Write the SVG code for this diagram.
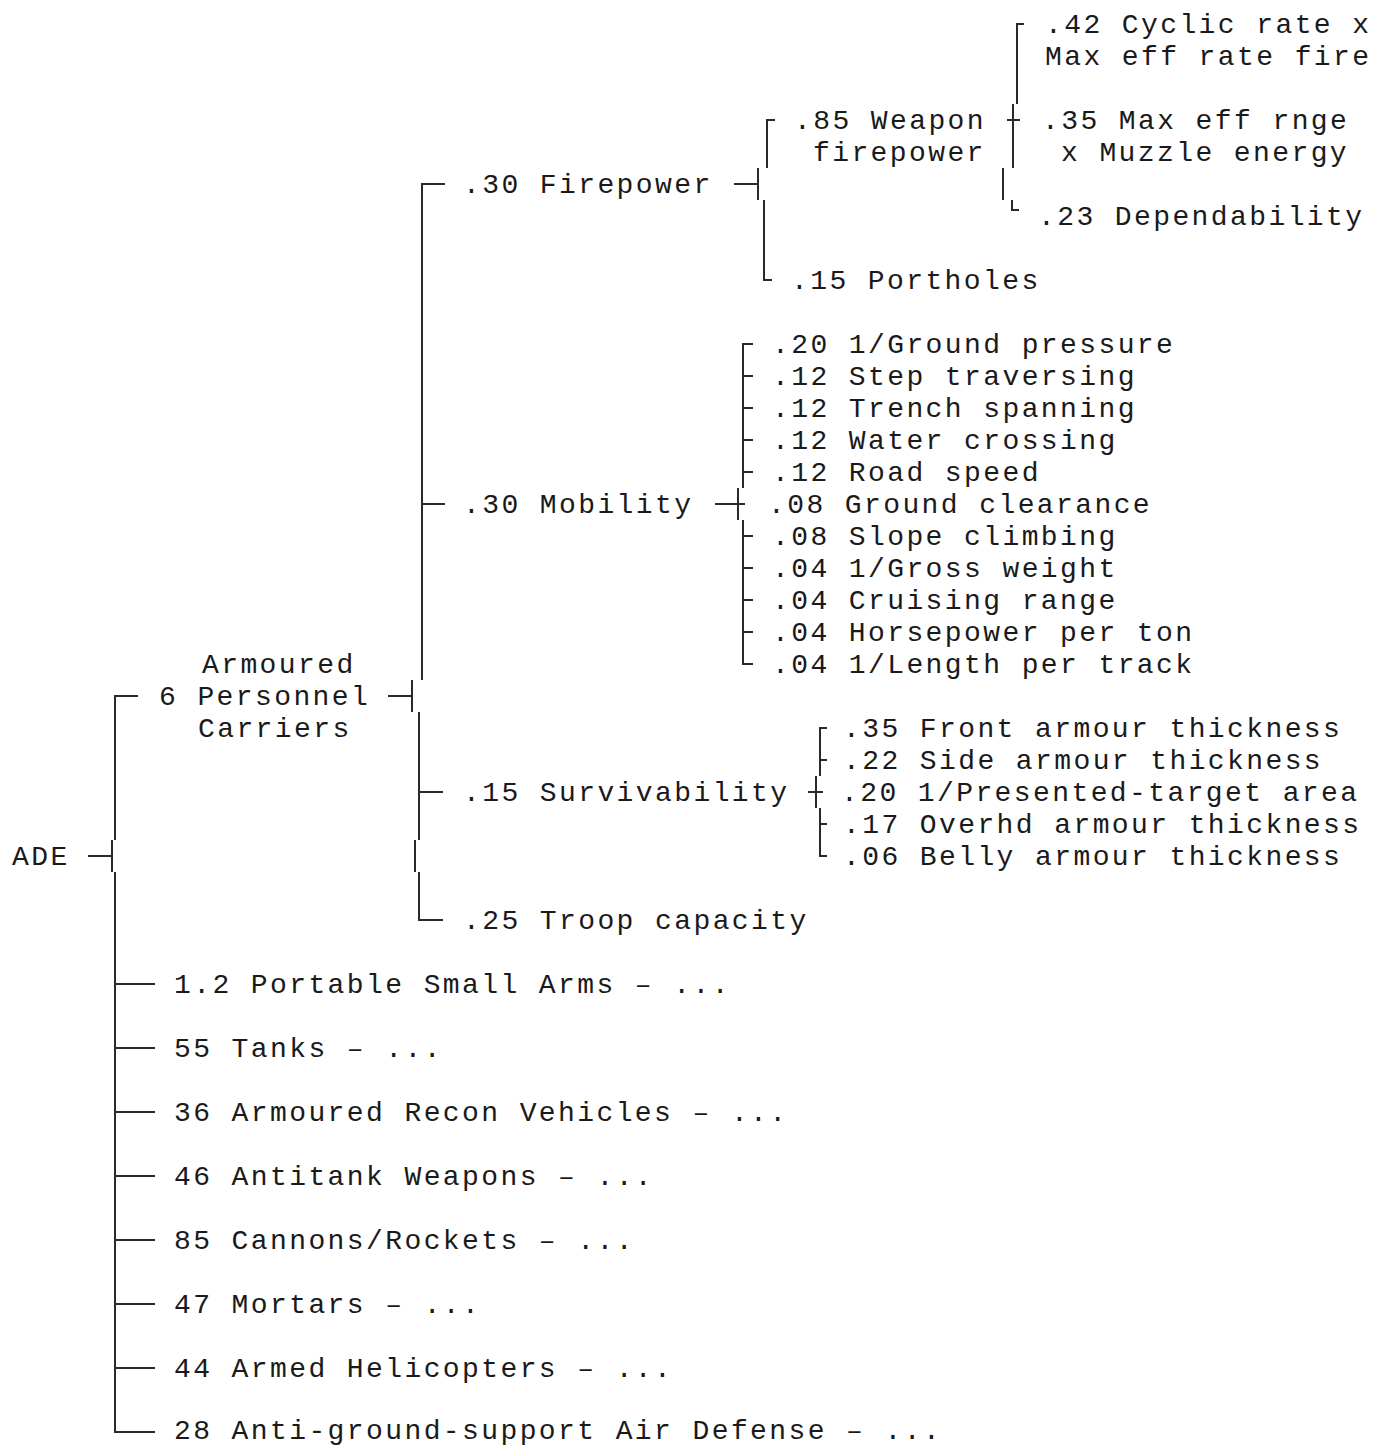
<svg xmlns="http://www.w3.org/2000/svg" width="1390" height="1446" viewBox="0 0 1390 1446">
<style>
text{font-family:"Liberation Mono","Courier New",monospace;font-size:28px;letter-spacing:2.4px;fill:#1a1a1a;white-space:pre}
.c{fill:none;stroke:#2a2a2a;stroke-width:2;stroke-linecap:butt;stroke-linejoin:miter}
</style>
<rect width="1390" height="1446" fill="#fff"/>
<g id="connectors" class="c">
<path d="M88,856H112M112,840V872"/>
<path d="M138,696H115V840"/>
<path d="M115,872V1432H155M115,984H155M115,1048H155M115,1112H155M115,1176H155M115,1240H155M115,1304H155M115,1368H155"/>
<path d="M388,696H412M412,680V712"/>
<path d="M445,184H422V680M422,504H445"/>
<path d="M419,712V840M419,792H443"/>
<path d="M415,840V872"/>
<path d="M419,872V920H443"/>
<path d="M734,184H758M758,168V200"/>
<path d="M775,120H767V168"/>
<path d="M764,200V280H772"/>
<path d="M1024,24H1017V104"/>
<path d="M1013,104V168M1007,120H1020"/>
<path d="M1003,168V200"/>
<path d="M1012,200V210H1019"/>
<path d="M753,344H743V488M743,376H753M743,408H753M743,440H753M743,472H753"/>
<path d="M715,504H745M738,488V520"/>
<path d="M743,520V664H753M743,536H753M743,568H753M743,600H753M743,632H753"/>
<path d="M827,728H820V776M820,760H827"/>
<path d="M816,776V808M808,792H823"/>
<path d="M820,808V856H827M820,824H827"/>
</g>
<g id="ade"><text x="12" y="865">ADE</text></g>
<g id="apc"><text x="202" y="673">Armoured</text><text x="159" y="705">6 Personnel</text><text x="198" y="737">Carriers</text></g>
<g id="firepower"><text x="463" y="193">.30 Firepower</text></g>
<g id="weapon-firepower"><text x="794" y="129">.85 Weapon</text><text x="813" y="161">firepower</text></g>
<g id="cyclic-rate"><text x="1045" y="33">.42 Cyclic rate x</text><text x="1045" y="65">Max eff rate fire</text></g>
<g id="max-eff-range"><text x="1042" y="129">.35 Max eff rnge</text><text x="1061" y="161">x Muzzle energy</text></g>
<g id="dependability"><text x="1038" y="225">.23 Dependability</text></g>
<g id="portholes"><text x="791" y="289">.15 Portholes</text></g>
<g id="mobility"><text x="463" y="513">.30 Mobility</text></g>
<g id="ground-pressure"><text x="772" y="353">.20 1/Ground pressure</text></g>
<g id="step-traversing"><text x="772" y="385">.12 Step traversing</text></g>
<g id="trench-spanning"><text x="772" y="417">.12 Trench spanning</text></g>
<g id="water-crossing"><text x="772" y="449">.12 Water crossing</text></g>
<g id="road-speed"><text x="772" y="481">.12 Road speed</text></g>
<g id="ground-clearance"><text x="768" y="513">.08 Ground clearance</text></g>
<g id="slope-climbing"><text x="772" y="545">.08 Slope climbing</text></g>
<g id="gross-weight"><text x="772" y="577">.04 1/Gross weight</text></g>
<g id="cruising-range"><text x="772" y="609">.04 Cruising range</text></g>
<g id="horsepower"><text x="772" y="641">.04 Horsepower per ton</text></g>
<g id="length-track"><text x="772" y="673">.04 1/Length per track</text></g>
<g id="survivability"><text x="463" y="801">.15 Survivability</text></g>
<g id="front-armour"><text x="843" y="737">.35 Front armour thickness</text></g>
<g id="side-armour"><text x="843" y="769">.22 Side armour thickness</text></g>
<g id="target-area"><text x="841" y="801">.20 1/Presented-target area</text></g>
<g id="overhd-armour"><text x="843" y="833">.17 Overhd armour thickness</text></g>
<g id="belly-armour"><text x="843" y="865">.06 Belly armour thickness</text></g>
<g id="troop-capacity"><text x="463" y="929">.25 Troop capacity</text></g>
<g id="small-arms"><text x="174" y="993">1.2 Portable Small Arms – ...</text></g>
<g id="tanks"><text x="174" y="1057">55 Tanks – ...</text></g>
<g id="recon"><text x="174" y="1121">36 Armoured Recon Vehicles – ...</text></g>
<g id="antitank"><text x="174" y="1185">46 Antitank Weapons – ...</text></g>
<g id="cannons"><text x="174" y="1249">85 Cannons/Rockets – ...</text></g>
<g id="mortars"><text x="174" y="1313">47 Mortars – ...</text></g>
<g id="helicopters"><text x="174" y="1377">44 Armed Helicopters – ...</text></g>
<g id="air-defense"><text x="174" y="1439">28 Anti-ground-support Air Defense – ...</text></g>
</svg>
